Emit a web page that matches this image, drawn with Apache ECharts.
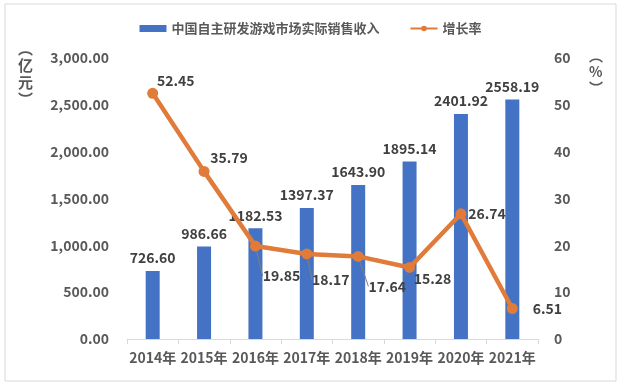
<!DOCTYPE html>
<html><head><meta charset="utf-8">
<script src="https://cdn.jsdelivr.net/npm/echarts@6/dist/echarts.min.js"></script>
<style>html,body{margin:0;padding:0;background:#fff}#c{width:621px;height:387px}</style>
</head><body><div id="c"></div>
<script>
const categories = ['2014年','2015年','2016年','2017年','2018年','2019年','2020年','2021年'];
const revenue = [726.60, 986.66, 1182.53, 1397.37, 1643.90, 1895.14, 2401.92, 2558.19];
const growth = [52.45, 35.79, 19.85, 18.17, 17.64, 15.28, 26.74, 6.51];
const revenueName = '中国自主研发游戏市场实际销售收入';
const growthName = '增长率';
// label offsets for growth labels [dx, dy] and whether a leader line is drawn
const growthLabelShift = [[23,-13],[25,-14],[26,30],[24,26],[29,30],[23,11],[26,0],[35,0]];
const growthLeader = [false,false,true,true,true,false,false,false];

const font = '"Noto Sans CJK SC","Microsoft YaHei",sans-serif';
const chart = echarts.init(document.getElementById('c'), null, {renderer:'canvas'});
chart.setOption({
  backgroundColor:'#fff',
  animation:false,
  textStyle:{fontFamily:font},
  legend:{
    top:17, left:'center',
    itemWidth:27, itemHeight:7, itemGap:30,
    textStyle:{fontSize:13, fontWeight:'bold', color:'#595959', fontFamily:font},
    data:[{name:revenueName, icon:'rect'}, {name:growthName}]
  },
  graphic:[
    {type:'rect', shape:{x:5,y:4,width:611,height:377}, style:{fill:'none', stroke:'#d9d9d9', lineWidth:1}, silent:true, z:-1},
    {type:'text', left:18, top:40, style:{text:'︵\n亿\n元\n︶', font:'bold 15px '+font, fill:'#595959', lineHeight:17, align:'center'}},
    {type:'text', left:589, top:48, style:{text:'︵\n%\n︶', font:'bold 14px '+font, fill:'#595959', lineHeight:16, align:'center'}}
  ],
  grid:{left:127, right:83, top:58, bottom:48},
  xAxis:{
    type:'category', data:categories,
    axisLine:{lineStyle:{color:'#d9d9d9'}},
    axisTick:{show:true, lineStyle:{color:'#d9d9d9'}},
    axisLabel:{interval:0, fontSize:14, fontWeight:'bold', color:'#595959', margin:12, fontFamily:font}
  },
  yAxis:[
    {type:'value', min:0, max:3000, interval:500,
     splitLine:{show:false}, axisLine:{show:false}, axisTick:{show:false},
     axisLabel:{fontSize:14, fontWeight:'bold', color:'#595959', margin:18, fontFamily:font,
       formatter:v=>v.toLocaleString('en-US',{minimumFractionDigits:2, maximumFractionDigits:2})}},
    {type:'value', min:0, max:60, interval:10,
     splitLine:{show:false}, axisLine:{show:false}, axisTick:{show:false},
     axisLabel:{fontSize:14, fontWeight:'bold', color:'#595959', margin:16, fontFamily:font}}
  ],
  series:[
    {name:revenueName, type:'bar', data:revenue, barWidth:14, yAxisIndex:0,
     itemStyle:{color:'#4472C4'},
     label:{show:true, position:'top', distance:6, fontSize:14, fontWeight:'bold', color:'#404040', fontFamily:font,
       formatter:p=>p.value.toFixed(2)}},
    {name:growthName, type:'line', yAxisIndex:1,
     data:growth.map((v,i)=>growthLeader[i] ? v : {value:v, labelLine:{show:false}}),
     symbol:'circle', symbolSize:11,
     lineStyle:{color:'#E07B39', width:4.5},
     itemStyle:{color:'#E07B39'},
     label:{show:true, position:'inside', fontSize:14, fontWeight:'bold', color:'#404040', fontFamily:font,
       formatter:p=>p.value.toFixed(2)},
     labelLine:{show:true, lineStyle:{color:'#808080', width:1}},
     labelLayout:p=>{const s=growthLabelShift[p.dataIndex]; return {dx:s[0], dy:s[1]};},
     z:5}
  ]
});
</script></body></html>
